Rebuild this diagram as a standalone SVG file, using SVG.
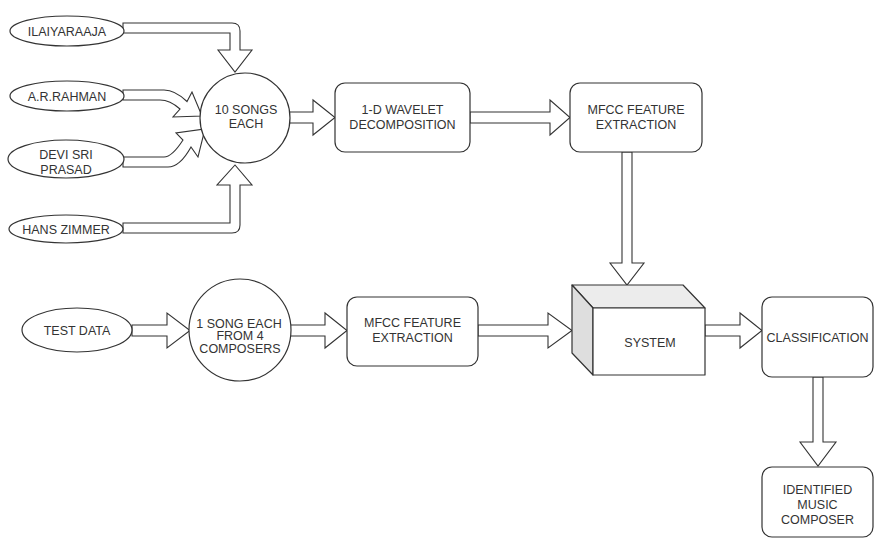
<svg xmlns="http://www.w3.org/2000/svg" width="874" height="546" viewBox="0 0 874 546">
<style>
.s{fill:#fff;stroke:#333;stroke-width:1.2;stroke-linejoin:round}
.a{fill:#fff;stroke:#333;stroke-width:1.1;stroke-linejoin:miter}
text{font-family:"Liberation Sans",Arial,sans-serif;font-size:12.5px;fill:#333;text-anchor:middle}
</style>
<rect width="874" height="546" fill="#fff"/>
<g id="connectors">
<path class="a" d="M123,23 H232 Q240,23 240,31 V50 H252 L235,72 L218,50 H230 V33 H123 Z"/>
<path class="a" d="M123,90 H164 Q175,90 187,101.5 L192,92 L202,116 L173,117 L180,109 Q170,100 160,100 H123 Z"/>
<path class="a" d="M123,157 H164 Q172,157 183,140 L176,133 L205,129 L198,157 L191,147 Q180,167 168,167 H123 Z"/>
<path class="a" d="M123,223 H230 V185 H217 L235,165 L252,185 H240 V225 Q240,233 232,233 H123 Z"/>
<path class="a" d="M289,112 H313 V100 L335,117.5 L313,135 V123 H289 Z"/>
<path class="a" d="M470,112 H550 V100 L570,117.5 L550,135 V123 H470 Z"/>
<path class="a" d="M622,152 V263 H610 L627,285 L644,263 H632 V152 Z"/>
<path class="a" d="M132,325 H167 V313 L190,330.5 L167,348 V336 H132 Z"/>
<path class="a" d="M290,325 H325 V313 L347,330.5 L325,348 V336 H290 Z"/>
<path class="a" d="M478,325 H548 V313 L572,330.5 L548,348 V336 H478 Z"/>
<path class="a" d="M705,325 H740 V313 L762,330.5 L740,348 V336 H705 Z"/>
<path class="a" d="M813,377 V442 H800 L818,466 L836,442 H823 V377 Z"/>
</g>
<g id="ilaiyaraaja"><ellipse class="s" cx="67" cy="31" rx="57" ry="15"/><text x="67" y="35.5">ILAIYARAAJA</text></g>
<g id="arrahman"><ellipse class="s" cx="67" cy="96" rx="57" ry="15"/><text x="67" y="100.5">A.R.RAHMAN</text></g>
<g id="devisriprasad"><ellipse class="s" cx="66" cy="159" rx="58" ry="19"/><text x="66" y="159">DEVI SRI</text><text x="66" y="173.5">PRASAD</text></g>
<g id="hanszimmer"><ellipse class="s" cx="66" cy="229" rx="57" ry="14"/><text x="66" y="233.5">HANS ZIMMER</text></g>
<g id="songs10"><circle class="s" cx="245" cy="118" r="45"/><text x="246" y="113.5">10 SONGS</text><text x="246" y="128">EACH</text></g>
<g id="wavelet"><rect class="s" x="335" y="83" width="135" height="69" rx="10"/><text x="402.5" y="113.5">1-D WAVELET</text><text x="402.5" y="128.5">DECOMPOSITION</text></g>
<g id="mfcc1"><rect class="s" x="570" y="83" width="132" height="69" rx="10"/><text x="636" y="113.5">MFCC FEATURE</text><text x="636" y="128.5">EXTRACTION</text></g>
<g id="testdata"><ellipse class="s" cx="77" cy="330" rx="55" ry="22"/><text x="77" y="335">TEST DATA</text></g>
<g id="song1"><circle class="s" cx="240" cy="330" r="51"/><text x="239" y="327.5">1 SONG EACH</text><text x="240" y="340">FROM 4</text><text x="240" y="352.5">COMPOSERS</text></g>
<g id="mfcc2"><rect class="s" x="347" y="297" width="131" height="69" rx="10"/><text x="412.5" y="327">MFCC FEATURE</text><text x="412.5" y="342">EXTRACTION</text></g>
<g id="system">
<polygon fill="#ececec" stroke="#333" stroke-width="1.2" stroke-linejoin="round" points="572,285 683,285 705,308 593,308"/>
<polygon fill="#dedede" stroke="#333" stroke-width="1.2" stroke-linejoin="round" points="572,285 593,308 593,375 572,353"/>
<rect class="s" x="593" y="308" width="112" height="67"/>
<text x="650" y="346.5">SYSTEM</text>
</g>
<g id="classification"><rect class="s" x="762" y="297" width="111" height="80" rx="10"/><text x="817.5" y="341.5">CLASSIFICATION</text></g>
<g id="identified"><rect class="s" x="762" y="467" width="111" height="70" rx="10"/><text x="817.5" y="493.5">IDENTIFIED</text><text x="817.5" y="508.5">MUSIC</text><text x="817.5" y="523.5">COMPOSER</text></g>
</svg>
